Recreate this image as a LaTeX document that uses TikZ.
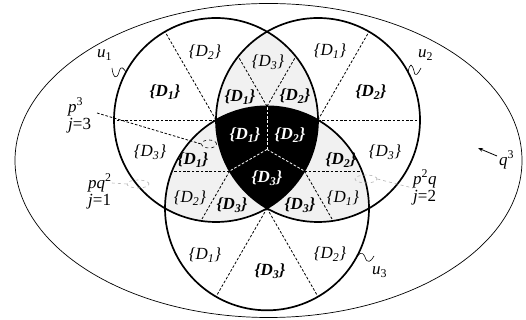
\documentclass[tikz,border=0pt]{standalone}
\usepackage{fontspec}
\setmainfont{Liberation Serif}
\usetikzlibrary{arrows.meta,shapes.geometric,calc}
\newcommand\DsetX[1]{\{D\textsubscript{#1}\}}
\begin{document}
\begin{tikzpicture}[x=1pt,y=1pt,
  circ/.style={line width=1.7pt},
  sep/.style={line width=0.8pt, dash pattern=on 2.6pt off 1.8pt},
  lbl/.style={font=\fontsize{17}{17}\selectfont\itshape, inner sep=0pt},
  blbl/.style={font=\fontsize{17}{17}\selectfont\bfseries\itshape, inner sep=0pt},
  wlbl/.style={blbl, text=white},
  side/.style={font=\fontsize{17}{17}\selectfont, inner sep=0pt, anchor=west},
  ring/.style={draw, ellipse, dashed, line width=0.6pt, inner sep=0pt},
  greyring/.style={ring, draw=gray!60},
]
\useasboundingbox (0,0) rectangle (526,320);
\def\R{102}
\coordinate (C1) at (216,200);
\coordinate (C2) at (318,200);
\coordinate (C3) at (267,111.67);
\coordinate (G) at (267,170.56);
\coordinate (M12) at (267,213.67);
\coordinate (M13) at (229.67,149);
\coordinate (M23) at (304.33,149);

% outer ellipse
\draw[line width=0.7pt] (268.5,159.5) ellipse [x radius=253.5, y radius=157];

% grey lenses
\begin{scope}\clip (C1) circle (\R); \fill[gray!11] (C2) circle (\R); \end{scope}
\begin{scope}\clip (C1) circle (\R); \fill[gray!11] (C3) circle (\R); \end{scope}
\begin{scope}\clip (C2) circle (\R); \fill[gray!11] (C3) circle (\R); \end{scope}
% black centre
\begin{scope}\clip (C1) circle (\R); \clip (C2) circle (\R); \fill[black] (C3) circle (\R); \end{scope}

% separators in the single regions
\draw[sep] (C1) -- ++(120:\R);
\draw[sep] (C1) -- ++(180:\R);
\draw[sep] (C2) -- ++(60:\R);
\draw[sep] (C2) -- ++(0:\R);
\draw[sep] (C3) -- ++(240:\R);
\draw[sep] (C3) -- ++(300:\R);
% separators in the lenses
\begin{scope}\clip (C1) circle (\R); \clip (C2) circle (\R);
  \draw[sep] (M12) -- ++(60:100); \draw[sep] (M12) -- ++(120:100);
\end{scope}
\begin{scope}\clip (C1) circle (\R); \clip (C3) circle (\R);
  \draw[sep] (M13) -- ++(180:100); \draw[sep] (M13) -- ++(240:100);
\end{scope}
\begin{scope}\clip (C2) circle (\R); \clip (C3) circle (\R);
  \draw[sep] (M23) -- ++(0:100); \draw[sep] (M23) -- ++(300:100);
\end{scope}
% separators in the black centre
\draw[sep, white] (G) -- (M12);
\draw[sep, white] (G) -- (M13);
\draw[sep, white] (G) -- (M23);

% circles
\draw[circ] (C1) circle (\R);
\draw[circ] (C2) circle (\R);
\draw[circ] (C3) circle (\R);

% region labels
\node[lbl]  (a1) at (205,268) {\DsetX{2}};
\node[blbl] (a2) at (165,228) {\DsetX{1}};
\node[lbl]  (a3) at (150,168) {\DsetX{3}};
\node[lbl]  (b1) at (330,269) {\DsetX{1}};
\node[blbl] (b2) at (371,228) {\DsetX{2}};
\node[lbl]  (b3) at (385,168) {\DsetX{3}};
\node[lbl]  (c1) at (205,65) {\DsetX{1}};
\node[blbl] (c2) at (270,49) {\DsetX{3}};
\node[lbl]  (c3) at (330,66) {\DsetX{2}};
\node[lbl]  (l1) at (268,258) {\DsetX{3}};
\node[blbl] (l2) at (240,223) {\DsetX{1}};
\node[blbl] (l3) at (295,224) {\DsetX{2}};
\node[wlbl] (k1) at (245,185) {\DsetX{1}};
\node[wlbl] (k2) at (290,185) {\DsetX{2}};
\node[wlbl] (k3) at (267,142) {\DsetX{3}};
\node[blbl] (m1) at (193,160) {\DsetX{1}};
\node[lbl]  (m2) at (190,122) {\DsetX{2}};
\node[blbl] (m3) at (232,115) {\DsetX{3}};
\node[blbl] (n1) at (341,160) {\DsetX{2}};
\node[lbl]  (n2) at (343,122) {\DsetX{1}};
\node[blbl] (n3) at (300,115) {\DsetX{3}};

% circle names with squiggles
\node[side] (u1) at (97,265) {\textit{u}\textsubscript{1}};
\coordinate (u1s) at (112,252);
\coordinate (u1e) at ($(C1)+(152:\R)$);
\draw[line width=0.6pt] (u1s) .. controls (113,242) and (117,240) .. (119,248)
  .. controls (121,256) and (124,251) .. (u1e);
\node[side] (u2) at (418,265) {\textit{u}\textsubscript{2}};
\coordinate (u2s) at ($(C2)+(28:\R)$);
\draw[line width=0.6pt] (u2s) .. controls (410,258) and (412,256) .. (414,249)
  .. controls (415,242) and (418,246) .. (421,252);
\node[side] (u3) at (372,48) {\textit{u}\textsubscript{3}};
\coordinate (u3s) at ($(C3)+(-30:\R)$);
\draw[line width=0.6pt] (u3s) .. controls (358,66) and (362,70) .. (365,63)
  .. controls (367,56) and (371,58) .. (374,64);

% pointers
\node[side] (p3) at (68,213) {\textit{p}\textsuperscript{3}};
\node[side] (j3) at (68,194) {\textit{j}=3};
\node[ring, minimum width=15pt, minimum height=8pt] (p3e) at (209,176) {};
\coordinate (p3t) at (97,207);
\draw[sep] (p3t) -- (p3e.west);

\node[side] (pq) at (88,137) {\textit{pq}\textsuperscript{2}};
\node[side] (j1) at (88,118) {\textit{j}=1};
\node[greyring, minimum width=22pt, minimum height=8pt] (pqe) at (138,136) {};
\draw[dashed, gray!60, line width=0.6pt] (pq.east) -- (pqe.west);

\node[side] (ppq) at (413,141) {\textit{p}\textsuperscript{2}\textit{q}};
\node[side] (j2) at (413,122) {\textit{j}=2};
\node[greyring, minimum width=22pt, minimum height=8pt] (ppqe) at (366,141) {};
\draw[dashed, gray!60, line width=0.6pt] (ppqe.east) -- (ppq.south west);

\node[side] (q3) at (499,160) {\textit{q}\textsuperscript{3}};
\coordinate (q3t) at ($(q3.west)+(-2,4)$);
\draw[-{Stealth[length=5pt,width=4pt]}, line width=0.8pt] (q3t) -- (478,172);
\end{tikzpicture}
\end{document}
